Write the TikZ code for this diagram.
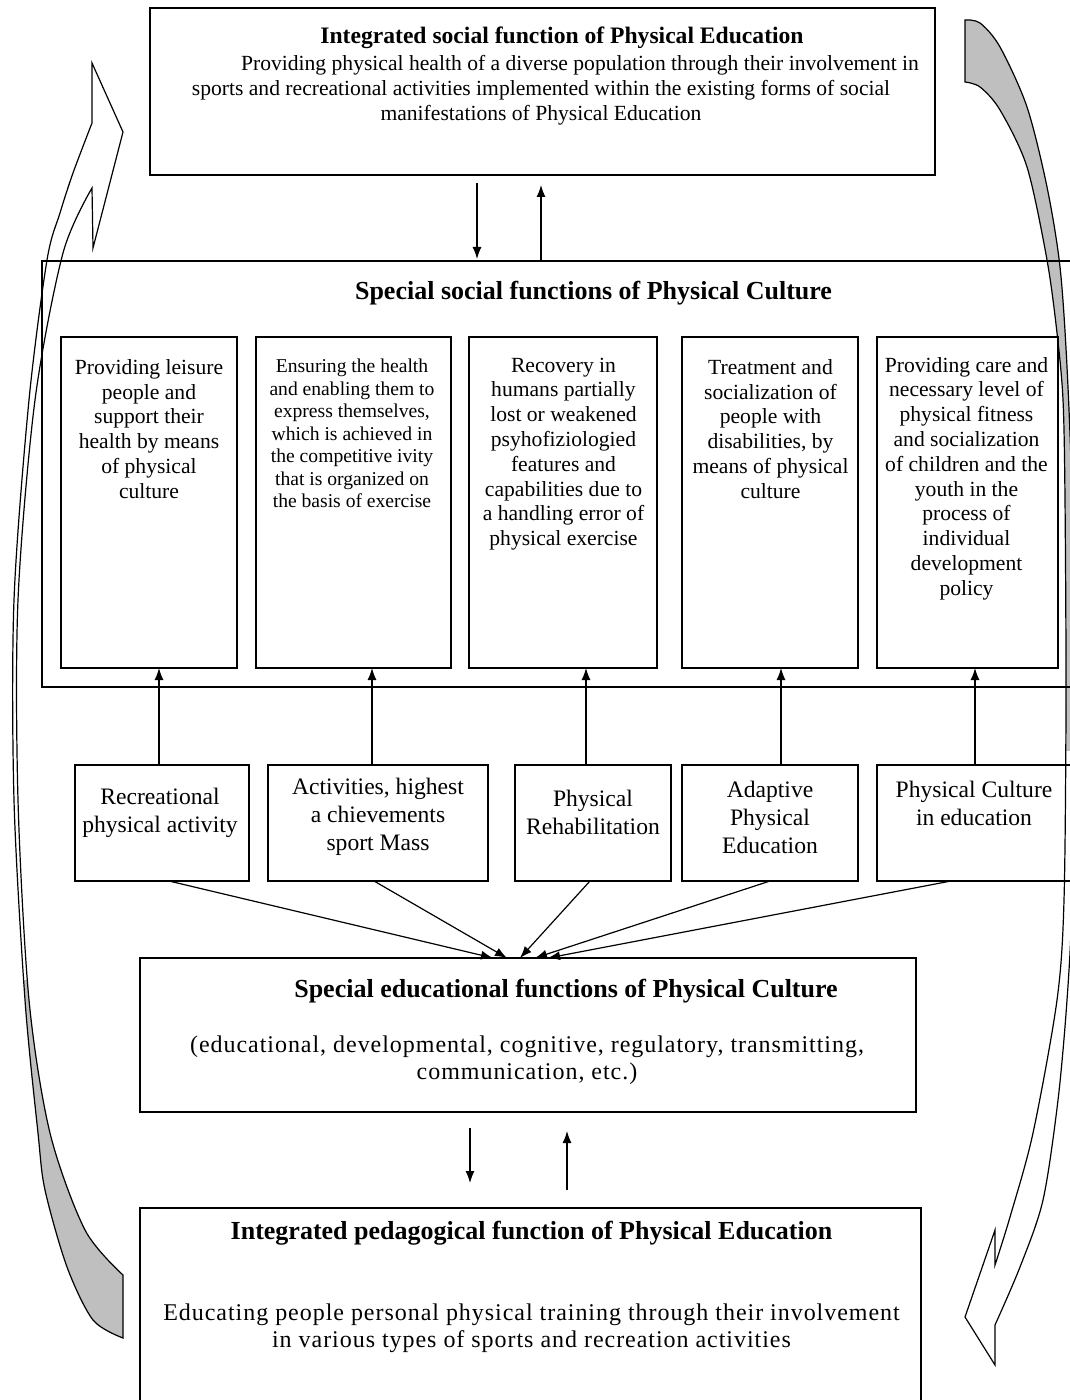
\documentclass[tikz,border=0pt]{standalone}
\usepackage{fontspec}
\setmainfont{Liberation Serif}
\usetikzlibrary{arrows.meta}

\newcommand{\ttlfont}{\bfseries\fontsize{13}{15}\selectfont}
\newcommand{\cellfont}{\fontsize{10.8}{12.4}\selectfont}
\newcommand{\smallcell}{\fontsize{9.8}{11.25}\selectfont}
\newcommand{\formfont}{\fontsize{11.8}{14}\selectfont}
\newcommand{\bodyfont}{\fontsize{12}{13.5}\selectfont\addfontfeature{LetterSpace=4}}

% outlines of the two bent side arrows
\newcommand{\leftband}{(92,123) -- (92,63) -- (123,132) -- (93,248) -- (92,188)
  -- plot[smooth] coordinates {(92,188) (63,253) (35,400) (18,600) (18,800) (29,1000) (50,1133) (85,1230) (123,1275)}
  -- plot[smooth] coordinates {(123,1338) (93,1320) (67,1267) (45,1190) (38,1133) (25,1000) (14,800) (14,600) (29,400) (47,260) (60,213) (73,173) (92,123)}
  -- cycle}
\newcommand{\rightband}{(965,20)
  -- plot[smooth] coordinates {(965,20) (980,23) (1000,47) (1027,107) (1047,187) (1060,267) (1067,367) (1072,500) (1074,700) (1072,900) (1067,1000) (1058,1100) (1043,1200) (1020,1267) (995,1325)}
  -- (995,1365) -- (965,1317) -- (995,1230) -- (995,1265)
  -- plot[smooth] coordinates {(995,1265) (1010,1217) (1033,1133) (1057,1000) (1064,900) (1066,700) (1065,500) (1063,400) (1057,333) (1047,260) (1027,167) (1000,110) (980,87) (965,82)}
  -- cycle}

\tikzset{
  fbox/.style={draw, line width=0.8pt, inner sep=0pt, outer sep=0pt},
  txt/.style={inner sep=0pt, align=center},
  link/.style={->, line width=0.6pt},
}

\begin{document}
\begin{tikzpicture}[x=0.5pt,y=-0.5pt,>={Latex[length=6pt,width=4.5pt]}]
\useasboundingbox (0,0) rectangle (1069,1400);

% side arrows
\fill[white] \leftband;
\begin{scope}
\clip (0,980) rectangle (200,1400);
\fill[black!25] \leftband;
\end{scope}
\draw[line width=0.6pt] \leftband;
\fill[white] \rightband;
\begin{scope}
\clip (900,0) rectangle (1100,750);
\fill[black!25] \rightband;
\end{scope}
\draw[line width=0.6pt] \rightband;

% boxes
\node[fbox, minimum width=392.5pt, minimum height=83.5pt] (top) at (542.5,91.5) {};
\node[fbox, minimum width=519pt, minimum height=213pt] (social) at (561,474) {};
\foreach \n/\cx/\w in {1/149/88, 2/353.5/97.5, 3/563/94, 4/770/88, 5/967.5/90.5}
  \node[fbox, minimum width=\w pt, minimum height=165.5pt] (u\n) at (\cx,502.5) {};
\foreach \n/\cx/\w in {1/162/87, 2/378/110, 3/593/78, 4/770/88, 5/981/104}
  \node[fbox, minimum width=\w pt, minimum height=58pt] (l\n) at (\cx,823) {};
\node[fbox, minimum width=388pt, minimum height=77pt] (edu) at (528,1035) {};
\node[fbox, minimum width=390.5pt, minimum height=106pt] (ped) at (530.5,1314) {};

% texts
\node[txt, font=\bfseries\fontsize{11.8}{14}\selectfont] (topttl) at (562,38) {Integrated social function of Physical Education};
\node[txt, font=\fontsize{10.8}{12.5}\selectfont] (toptxt) at (541,90)
  {\hspace*{39pt}Providing physical health of a diverse population through their involvement in\\
   sports and recreational activities implemented within the existing forms of social\\
   manifestations of Physical Education};
\node[txt, font=\ttlfont] (socttl) at (593.5,293) {Special social functions of Physical Culture};

\node[txt, font=\cellfont] (u1txt) at (149,429)
  {Providing leisure\\people and\\support their\\health by means\\of physical\\culture};
\node[txt, font=\smallcell] (u2txt) at (352,433.5)
  {Ensuring the health\\and enabling them to\\express themselves,\\which is achieved in\\the competitive ivity\\that is organized on\\the basis of exercise};
\node[txt, font=\cellfont] (u3txt) at (563.5,454)
  {Recovery in\\humans partially\\lost or weakened\\psyhofiziologied\\features and\\capabilities due to\\a handling error of\\physical exercise};
\node[txt, font=\cellfont] (u4txt) at (770.5,429)
  {Treatment and\\socialization of\\people with\\disabilities, by\\means of physical\\culture};
\node[txt, font=\cellfont] (u5txt) at (966.5,478.5)
  {Providing care and\\necessary level of\\physical fitness\\and socialization\\of children and the\\youth in the\\process of\\individual\\development\\policy};

\node[txt, font=\formfont] (l1txt) at (160,812.5) {Recreational\\physical activity};
\node[txt, font=\formfont] (l2txt) at (378,817) {Activities, highest\\a chievements\\sport Mass};
\node[txt, font=\formfont] (l3txt) at (593,812.5) {Physical\\Rehabilitation};
\node[txt, font=\formfont] (l4txt) at (770,817) {Adaptive\\Physical\\Education};
\node[txt, font=\formfont] (l5txt) at (974,803) {Physical Culture\\in education};

\node[txt, font=\ttlfont] (eduttl) at (566,991) {Special educational functions of Physical Culture};
\node[txt, font=\bodyfont] (edutxt) at (527,1060)
  {(educational, developmental, cognitive, regulatory, transmitting,\\communication, etc.)};
\node[txt, font=\ttlfont] (pedttl) at (531.5,1233) {Integrated pedagogical function of Physical Education};
\node[txt, font=\bodyfont] (pedtxt) at (531.5,1328)
  {Educating people personal physical training through their involvement\\in various types of sports and recreation activities};

% arrows
\draw[link, shorten <=4pt, shorten >=1pt] ([xshift=-32.75pt]top.south) -- ([xshift=-32.75pt]top.south |- social.north);
\draw[link, shorten >=5pt] ([xshift=-0.75pt]top.south |- social.north) -- ([xshift=-0.75pt]top.south);
\foreach \n/\dx in {1/-1.5, 2/-3, 3/-3.5, 4/5.5, 5/-3}
  \draw[link] ([xshift=\dx pt]l\n.north) -- ([xshift=\dx pt]l\n.north |- u\n.south);
\foreach \n/\sx/\ex in {1/3.5/-17.5, 2/-2/-10.5, 3/-1.5/-4, 4/0/3.5, 5/-15/10}
  \draw[link] ([xshift=\sx pt]l\n.south) -- ([xshift=\ex pt]edu.north);
\draw[link, shorten <=8pt, shorten >=12.5pt] ([xshift=-29pt]edu.south) -- ([xshift=-29pt]edu.south |- ped.north);
\draw[link, shorten <=9pt, shorten >=9.5pt] ([xshift=19.5pt]edu.south |- ped.north) -- ([xshift=19.5pt]edu.south);
\end{tikzpicture}
\end{document}
